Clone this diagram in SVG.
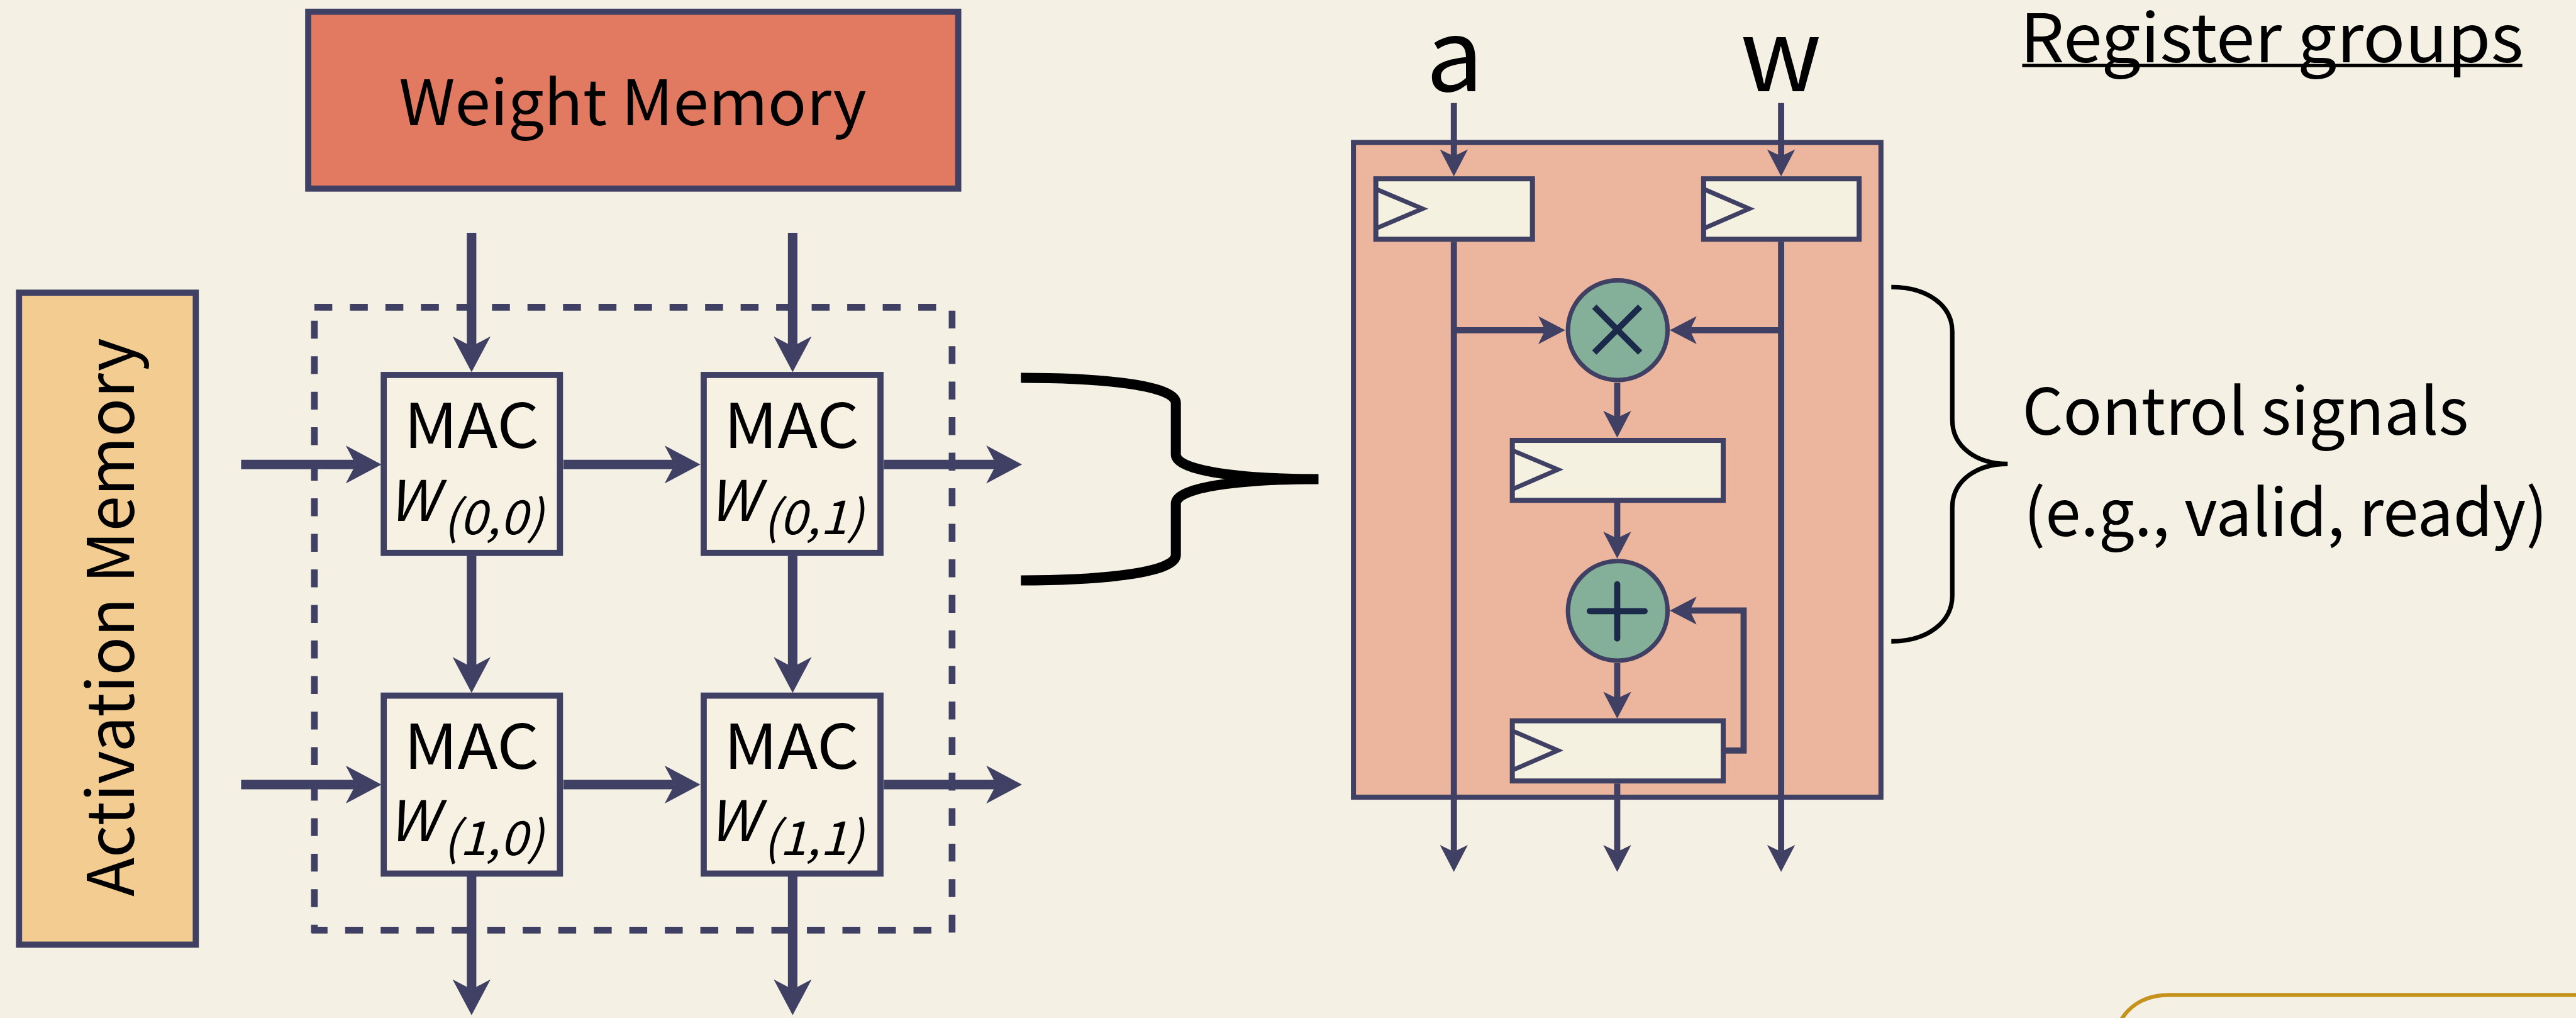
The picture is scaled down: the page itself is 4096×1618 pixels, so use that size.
<svg xmlns="http://www.w3.org/2000/svg" width="4096" height="1618" viewBox="0 0 4096 1618">
<style>
text{font-family:"Noto Sans CJK JP","Noto Sans",sans-serif;fill:#000}
.box{stroke:#3F4063;stroke-width:11}
.mac{fill:#F6F1E2}
.reg{fill:#F4F1E1;stroke:#3F4063;stroke-width:9}
.clk{fill:none;stroke:#3F4063;stroke-width:8}
.op{fill:#84B09A;stroke:#3F4063;stroke-width:8}
.sym{stroke:#1B2A4A;stroke-width:11;fill:none}
.dash{fill:none;stroke:#3F4063;stroke-width:12;stroke-dasharray:32 31.5}
.thick{fill:none;stroke:#3F4063;stroke-width:17;marker-end:url(#big)}
.thin{fill:none;stroke:#3F4063;stroke-width:11;marker-end:url(#small)}
.brace{fill:none;stroke:#000}
.mt{font-size:110px}
.wt{font-size:100px;font-style:italic}
.st{font-size:84px;font-style:italic}
</style>
<defs>
<marker id="big" markerUnits="userSpaceOnUse" viewBox="0 -40 70 80" markerWidth="70" markerHeight="80" refX="18" refY="0" orient="auto"><path d="M0 -34L64 0L0 34L18 0Z" fill="#3F4063"/></marker>
<marker id="small" markerUnits="userSpaceOnUse" viewBox="0 -30 54 60" markerWidth="54" markerHeight="60" refX="12" refY="0" orient="auto"><path d="M0 -25L48 0L0 25L12 0Z" fill="#3F4063"/></marker>
</defs>
<rect width="4096" height="1618" fill="#F4F0E4"/>
<g transform="scale(0.88947)">
<g id="weight-memory"><rect class="box" x="551" y="21" width="1162" height="316" fill="#E27A62"/><text x="713" y="224" font-size="112" textLength="836" lengthAdjust="spacingAndGlyphs">Weight Memory</text></g>
<g id="activation-memory"><rect class="box" x="34" y="523" width="316" height="1165" fill="#F3CC91"/><text transform="translate(239 1602) rotate(-90)" font-size="115" textLength="998" lengthAdjust="spacingAndGlyphs">Activation Memory</text></g>
<g id="array-boundary"><path class="dash" d="M562 549H1702"/><path class="dash" d="M1702 555V1667"/><path class="dash" d="M1665 1662H557"/><path class="dash" d="M562 573V1667"/></g>
<g id="mac-0-0"><rect class="box mac" x="686" y="670" width="315" height="318"/><text class="mt" x="722" y="800" textLength="242" lengthAdjust="spacingAndGlyphs">MAC</text><text><tspan class="wt" x="693" y="931" textLength="90" lengthAdjust="spacingAndGlyphs">W</tspan><tspan class="st" x="792" y="955" textLength="180" lengthAdjust="spacingAndGlyphs">(0,0)</tspan></text></g>
<g id="mac-0-1"><rect class="box mac" x="1258" y="670" width="316" height="318"/><text class="mt" x="1294" y="800" textLength="242" lengthAdjust="spacingAndGlyphs">MAC</text><text><tspan class="wt" x="1266" y="931" textLength="90" lengthAdjust="spacingAndGlyphs">W</tspan><tspan class="st" x="1364" y="955" textLength="180" lengthAdjust="spacingAndGlyphs">(0,1)</tspan></text></g>
<g id="mac-1-0"><rect class="box mac" x="686" y="1243" width="315" height="318"/><text class="mt" x="722" y="1374" textLength="242" lengthAdjust="spacingAndGlyphs">MAC</text><text><tspan class="wt" x="693" y="1503" textLength="90" lengthAdjust="spacingAndGlyphs">W</tspan><tspan class="st" x="792" y="1528" textLength="180" lengthAdjust="spacingAndGlyphs">(1,0)</tspan></text></g>
<g id="mac-1-1"><rect class="box mac" x="1258" y="1243" width="316" height="318"/><text class="mt" x="1294" y="1374" textLength="242" lengthAdjust="spacingAndGlyphs">MAC</text><text><tspan class="wt" x="1266" y="1503" textLength="90" lengthAdjust="spacingAndGlyphs">W</tspan><tspan class="st" x="1364" y="1528" textLength="180" lengthAdjust="spacingAndGlyphs">(1,1)</tspan></text></g>
<g id="pe"><rect x="2419.5" y="254.5" width="943" height="1170" fill="#EBB59E" stroke="#3F4063" stroke-width="9"/></g>
<g id="reg-a"><rect class="reg" x="2459.5" y="319.500" width="280" height="108"/><path class="clk" d="M2460 338L2543 373L2460 408"/></g>
<g id="reg-w"><rect class="reg" x="3045.5" y="319.500" width="278" height="108"/><path class="clk" d="M3046 338L3127 373L3046 408"/></g>
<g id="mult"><circle class="op" cx="2892" cy="590" r="89"/><path class="sym" d="M2850 548L2932 630M2932 548L2850 630"/></g>
<g id="reg-mid"><rect class="reg" x="2703.5" y="787" width="377" height="107"/><path class="clk" d="M2704 805L2785 839L2704 874"/></g>
<g id="add"><circle class="op" cx="2892" cy="1091.5" r="89"/><path class="sym" stroke-linecap="round" d="M2842 1092H2940M2891 1044V1141"/></g>
<g id="reg-acc"><rect class="reg" x="2703.5" y="1288" width="377" height="107.500"/><path class="clk" d="M2704 1306L2785 1341L2704 1376"/></g>
<g id="connectors">
<path class="thick" d="M431 830H636"/><path class="thick" d="M1007 830H1206"/><path class="thick" d="M1580 830H1781"/>
<path class="thick" d="M431 1402H636"/><path class="thick" d="M1007 1402H1206"/><path class="thick" d="M1580 1402H1781"/>
<path class="thick" d="M843 416V619"/><path class="thick" d="M843 993V1192"/><path class="thick" d="M843 1566V1768"/>
<path class="thick" d="M1417 416V619"/><path class="thick" d="M1417 993V1192"/><path class="thick" d="M1417 1566V1768"/>
<path class="thin" d="M2599 184V279"/><path class="thin" d="M2599 432V1522"/>
<path class="thin" d="M3184 184V279"/><path class="thin" d="M3184 432V1522"/>
<path class="thin" d="M2599 590H2762"/><path class="thin" d="M3184 590H3021"/>
<path class="thin" d="M2891 684V746"/><path class="thin" d="M2891 898V962"/><path class="thin" d="M2891 1185V1248"/><path class="thin" d="M2891 1400V1522"/>
<path class="thin" d="M3085 1341H3117V1091H3021"/>
</g>
<g id="big-brace"><path class="brace" stroke-width="18" d="M1825 675C1980 675 2102 690 2102 720V812C2102 842 2220 856 2357 856C2220 856 2102 870 2102 900V992C2102 1022 1980 1037 1825 1037"/></g>
<g id="control-brace"><path class="brace" stroke-width="8" d="M3381 513C3445 513 3490 545 3490 593V750C3490 800 3535 829 3589 829C3535 829 3490 858 3490 907V1064C3490 1112 3445 1146 3381 1146"/></g>
<g id="labels">
<text x="2549" y="163" font-size="178" textLength="103" lengthAdjust="spacingAndGlyphs">a</text>
<text x="3111" y="163" font-size="178" textLength="145" lengthAdjust="spacingAndGlyphs">w</text>
<text x="3611" y="111" font-size="120" textLength="900" lengthAdjust="spacingAndGlyphs">Register groups</text>
<path d="M3615 117H4509" stroke="#000" stroke-width="6" fill="none"/>
<text x="3615" y="777" font-size="115" textLength="798" lengthAdjust="spacingAndGlyphs">Control signals</text>
<text x="3618" y="958" font-size="115" textLength="936" lengthAdjust="spacingAndGlyphs">(e.g., valid, ready)</text>
</g>
<g id="callout-edge"><path d="M3785 1835C3802 1797 3835 1778 3879 1778H4620" fill="none" stroke="#C5921B" stroke-width="7"/></g>
</g>
</svg>
